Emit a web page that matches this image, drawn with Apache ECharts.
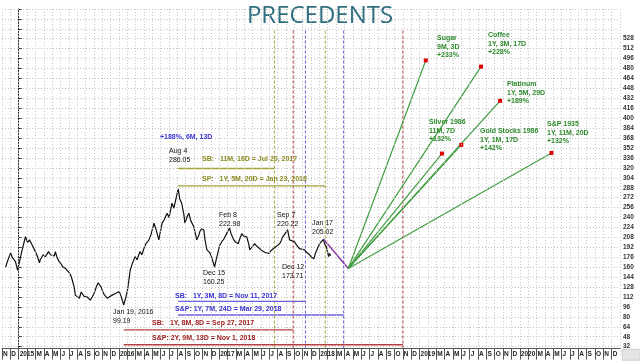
<!DOCTYPE html>
<html><head><meta charset="utf-8">
<script src="https://cdn.jsdelivr.net/npm/echarts@6/dist/echarts.min.js"></script>
<style>html,body{margin:0;padding:0;background:#fff}#c{width:640px;height:364px}</style>
</head><body><div id="c"></div>
<script>
// ---------- data ----------
const priceDates = ['2014-11-14','2014-11-21','2014-12-02','2014-12-09','2014-12-20','2014-12-28',
'2015-01-08','2015-01-15','2015-01-26','2015-02-03','2015-02-09','2015-02-19',
'2015-03-01','2015-03-08','2015-03-16','2015-03-19','2015-03-30','2015-04-07','2015-04-18','2015-04-25',
'2015-05-02','2015-05-09','2015-05-13','2015-05-20','2015-05-27','2015-06-04','2015-06-08','2015-06-19','2015-06-26',
'2015-07-03','2015-07-10','2015-07-14','2015-07-21','2015-07-25','2015-08-01','2015-08-09','2015-08-16','2015-08-20','2015-08-27','2015-08-31',
'2015-09-07','2015-09-18','2015-09-25','2015-10-02','2015-10-10','2015-10-17','2015-10-20','2015-10-28',
'2015-11-01','2015-11-08','2015-11-19','2015-11-26','2015-12-07','2015-12-14','2015-12-21',
'2016-01-02','2016-01-09','2016-01-19','2016-01-27','2016-02-01','2016-02-07','2016-02-11','2016-02-18','2016-02-28',
'2016-03-06','2016-03-17','2016-03-24','2016-04-01','2016-04-08','2016-04-19','2016-04-26',
'2016-05-07','2016-05-14','2016-05-25','2016-06-06','2016-06-13','2016-06-24','2016-07-01','2016-07-12','2016-07-19',
'2016-08-04','2016-08-10','2016-08-17','2016-08-25','2016-08-29','2016-09-05','2016-09-12','2016-09-19','2016-09-30',
'2016-10-08','2016-10-11','2016-10-19','2016-10-22','2016-10-29','2016-11-06','2016-11-10','2016-11-17','2016-11-24','2016-11-28',
'2016-12-05','2016-12-15','2016-12-20','2016-12-30',
'2017-01-03','2017-01-11','2017-01-18','2017-01-26','2017-02-08','2017-02-13','2017-02-22',
'2017-03-01','2017-03-10','2017-03-15','2017-03-23','2017-03-30','2017-04-10','2017-04-17','2017-04-21','2017-04-28',
'2017-05-09','2017-05-16','2017-05-27','2017-06-04','2017-06-15','2017-06-22','2017-06-29',
'2017-07-06','2017-07-17','2017-07-24','2017-08-04','2017-08-12','2017-08-19','2017-09-07','2017-09-14','2017-09-21',
'2017-10-02','2017-10-09','2017-10-20','2017-10-27','2017-11-08','2017-11-15','2017-11-26',
'2017-12-03','2017-12-12','2017-12-17','2017-12-25',
'2018-01-02','2018-01-09','2018-01-17','2018-01-20','2018-01-27','2018-01-31','2018-02-04','2018-02-07','2018-02-11'];
const priceValues = [160,170,183,175,169,155,
177,190,209,200,204,195,
185,178,167,172,180,177,185,180,
183,178,185,175,169,165,161,158,155,
151,145,139,128,115,118,110,120,123,113,110,
112,107,112,118,128,135,137,128,
123,116,110,112,115,112,118,
121,113,99.19,112,121,140,155,165,177,
172,185,180,190,198,204,212,
231,222,204,231,236,247,240,263,255,
286.05,270,263,245,231,240,247,235,225,
210,204,212,217,222,220,205,188,185,183,
175,160.25,170,188,
195,201,205,212,222.98,214,204,
200,198,205,214,210,209,198,188,192,
198,194,190,187,184,181,182,
186,190,188,196,200,208,220.22,204,206,
201,196,190,192,188,184,180,
176,173.71,182,190,
198,200,205.02,198,193,185,177,182,178.4];

const projStartDate = '2018-04-15';
const projStartValue = 158;
const peakDate = '2018-01-17';
const peakValue = 205.02;

const precedentNames = ['Sugar','Coffee','Platinum','Silver 1986','Gold Stocks 1986','S&P 1935'];
const precedentDurations = ['9M, 3D','1Y, 3M, 17D','1Y, 5M, 29D','11M, 7D','1Y, 1M, 17D','1Y, 11M, 20D'];
const precedentGains = ['+233%','+228%','+189%','+132%','+142%','+132%'];
const precedentEndDates = ['2019-01-24','2019-08-12','2019-10-21','2019-03-22','2019-06-01','2020-04-25'];
const precedentEndValues = [493,483,428,343,357,344];

const refLineDates = ['2017-07-20','2017-09-27','2017-11-11','2018-01-23','2018-03-29','2018-11-01'];
const refLineKinds = ['olive','red','blue','olive','blue','red'];

const segFromDates = ['2016-08-04','2016-08-04','2016-08-04','2016-08-04','2016-01-19','2016-01-19'];
const segToDates   = ['2017-07-20','2018-01-23','2017-11-11','2018-03-29','2017-09-27','2018-11-01'];
const segLevels    = [319,291,105,83,59,35];
const segKinds     = ['olive','olive','blue','blue','red','red'];

const monthLetters = ['J','','M','A','M','J','J','A','S','O','N','D'];

// ---------- helpers / styles ----------
const COL = {olive:'#a3a33a', red:'#b83a3a', blue:'#6a62dc'};
const TXT = {olive:'#8c8c22', red:'#a02020', blue:'#3a34d0', green:'#2c8a2c', black:'#111'};
function toM(s){const [y,m,d]=s.split('-').map(Number);const dim=new Date(y,m,0).getDate();return (y-2015)*12+(m-1)+(d-1)/dim;}

const series = [];
series.push({type:'line', name:'price', data:priceDates.map((d,i)=>[toM(d),priceValues[i]]),
  symbol:'none', lineStyle:{color:'#111', width:1.2}, z:5, animation:false,
  markLine:{silent:true, symbol:'none', animation:false, lineStyle:{opacity:0},
    data:[{yAxis:priceValues[priceValues.length-1]}],
    label:{position:'end', distance:2, formatter:p=>p.value.toFixed(2), backgroundColor:'#c40000', color:'#3a0000',
      fontSize:6.5, fontWeight:'bold', padding:[1,1,0,1]}}});
const DASH_TOP=544, DASH_BOTTOM=29;
refLineDates.forEach((d,i)=>series.push({type:'line', data:[[toM(d),DASH_BOTTOM],[toM(d),DASH_TOP]], symbol:'none',
  lineStyle:{color:COL[refLineKinds[i]], width:1, type:[3,2]}, z:3, animation:false}));
segFromDates.forEach((d,i)=>series.push({type:'line', data:[[toM(d),segLevels[i]],[toM(segToDates[i]),segLevels[i]]], symbol:'none',
  lineStyle:{color:COL[segKinds[i]], width:1.4}, z:4, animation:false}));
series.push({type:'line', data:[[toM(peakDate),peakValue],[toM(projStartDate),projStartValue]], symbol:'none',
  lineStyle:{color:'#8a35a5', width:1.4}, z:6, animation:false});
precedentEndDates.forEach((d,i)=>series.push({type:'line', animation:false, z:6,
  data:[{value:[toM(projStartDate),projStartValue], symbol:'none'},
        {value:[toM(d),precedentEndValues[i]], symbol:'rect', symbolSize:4, itemStyle:{color:'#e00000'}}],
  lineStyle:{color:'#3f9e3f', width:1.2}, showSymbol:true}));

// text annotations (pixel anchors)
const F = '7px "Liberation Sans", Arial, sans-serif';
const FB = 'bold 7px "Liberation Sans", Arial, sans-serif';
const notes = [
  ['+188%, 6M, 13D',160,133,TXT.blue,FB],
  ['Aug 4\n286.05',169,147,TXT.black,F],
  ['SB:   11M, 16D = Jul 20, 2017',202,155,TXT.olive,FB],
  ['SP:   1Y, 5M, 20D = Jan 23, 2018',202,175,TXT.olive,FB],
  ['Feb 8\n222.98',219,211,TXT.black,F],
  ['Sep 7\n220.22',277,211,TXT.black,F],
  ['Jan 17\n205.02',312,219,TXT.black,F],
  ['Dec 15\n160.25',203,269,TXT.black,F],
  ['Dec 12\n173.71',282,263,TXT.black,F],
  ['SB:   1Y, 3M, 8D = Nov 11, 2017',175,292,TXT.blue,FB],
  ['S&P: 1Y, 7M, 24D = Mar 29, 2018',175,305,TXT.blue,FB],
  ['Jan 19, 2016\n99.19',113,308,TXT.black,F],
  ['SB:   1Y, 8M, 8D = Sep 27, 2017',152,319,TXT.red,FB],
  ['S&P: 2Y, 9M, 13D = Nov 1, 2018',152,334,TXT.red,FB]
];
const precedentLabelPos = [[437,34],[488,31],[507,80],[429,118],[480,127],[547,120]];
precedentNames.forEach((n,i)=>notes.push([n+'\n'+precedentDurations[i]+'\n'+precedentGains[i],
  precedentLabelPos[i][0],precedentLabelPos[i][1],TXT.green,FB]));

const graphic = notes.map(n=>({type:'text', left:n[1], top:n[2], z:20,
  style:{text:n[0], fill:n[3], font:n[4], lineHeight:8.5}}));
graphic.push({type:'rect', left:0, top:349, z:1, shape:{width:621, height:12}, style:{fill:'#fff'}});
graphic.push({type:'rect', left:622, top:349, z:1, shape:{width:18, height:11}, style:{fill:'#e4e4e4', stroke:'#aaa', lineWidth:0.5}});

const chart = echarts.init(document.getElementById('c'), null, {renderer:'canvas'});
chart.setOption({
  animation:false,
  backgroundColor:'#fff',
  title:{text:'PRECEDENTS', left:'center', top:-1,
    textStyle:{fontSize:24, color:'#2f6f80', fontWeight:'normal', fontFamily:'"Open Sans", sans-serif'}},
  grid:{left:0, right:20, top:8.9, bottom:7.4},
  xAxis:{type:'value', min:-2, max:72, interval:1, offset:-8, z:10,
    axisLine:{show:true, lineStyle:{color:'#555', width:1}},
    axisTick:{show:true, length:11, lineStyle:{color:'#555'}},
    splitLine:{show:true, lineStyle:{color:'#c4c4c4', type:[1,2]}},
    axisLabel:{show:true, margin:2, align:'left', padding:[0,0,0,1], fontSize:6.5, fontWeight:'bold', color:'#222',
      fontFamily:'"Liberation Sans", Arial, sans-serif', showMinLabel:true, showMaxLabel:false,
      formatter:v=>{const m=Math.round(v); if(m>=72) return ''; const mo=((m%12)+12)%12; if(mo===0) return String(2015+m/12); return monthLetters[mo];}}},
  yAxis:{type:'value', position:'right', min:16, max:576, interval:16, z:0,
    axisLine:{show:true, lineStyle:{color:'#333'}},
    axisTick:{show:true, length:3, lineStyle:{color:'#333'}},
    splitLine:{show:true, lineStyle:{color:'#c4c4c4', type:[1,2]}},
    axisLabel:{margin:3, fontSize:6.5, fontWeight:'bold', color:'#333', fontFamily:'"Liberation Sans", Arial, sans-serif',
      formatter:v=>(v<32||v>528)?'':String(v)}},
  series:series,
  graphic:graphic
});
</script></body></html>
